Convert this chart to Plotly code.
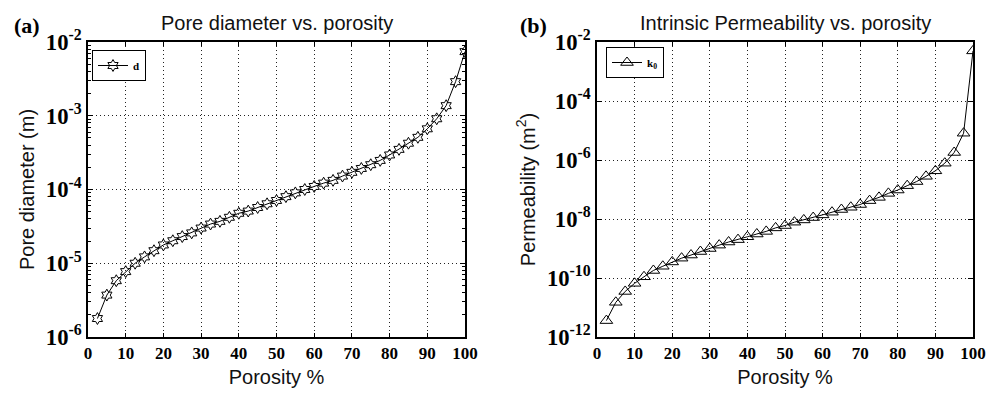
import plotly.graph_objects as go

porosity = [2.5, 5, 7.5, 10, 12.5, 15, 17.5, 20, 22.5, 25, 27.5, 30, 32.5, 35, 37.5, 40,
            42.5, 45, 47.5, 50, 52.5, 55, 57.5, 60, 62.5, 65, 67.5, 70, 72.5, 75, 77.5, 80,
            82.5, 85, 87.5, 90, 92.5, 95, 97.5, 100]

pore_diameter = [1.78e-6, 3.7e-6, 5.8e-6, 7.7e-6, 1.0e-5, 1.22e-5, 1.48e-5, 1.77e-5,
                 2.02e-5, 2.3e-5, 2.58e-5, 3.0e-5, 3.4e-5, 3.7e-5, 4.2e-5, 4.76e-5,
                 5.1e-5, 5.7e-5, 6.4e-5, 7.1e-5, 8.0e-5, 9.0e-5, 1.0e-4, 1.1e-4,
                 1.22e-4, 1.33e-4, 1.52e-4, 1.71e-4, 1.93e-4, 2.17e-4, 2.48e-4, 2.94e-4,
                 3.5e-4, 4.24e-4, 5.1e-4, 6.65e-4, 9.1e-4, 1.37e-3, 2.9e-3, 7.4e-3]

permeability = [3.6e-12, 1.5e-11, 3.5e-11, 6.6e-11, 1.1e-10, 1.8e-10, 2.5e-10, 3.5e-10,
                4.7e-10, 6.0e-10, 7.9e-10, 1.0e-9, 1.3e-9, 1.66e-9, 2.0e-9, 2.5e-9,
                3.1e-9, 3.8e-9, 5.0e-9, 6.0e-9, 7.8e-9, 9.3e-9, 1.12e-8, 1.38e-8,
                1.7e-8, 2.1e-8, 2.5e-8, 3.1e-8, 4.2e-8, 5.4e-8, 7.4e-8, 9.6e-8,
                1.35e-7, 1.86e-7, 2.8e-7, 4.3e-7, 7.8e-7, 1.8e-6, 8.1e-6, 5.0e-3]

x_ticks = [0, 10, 20, 30, 40, 50, 60, 70, 80, 90, 100]
left_exponents = [-6, -5, -4, -3, -2]
right_exponents = [-12, -10, -8, -6, -4, -2]
left_ticklabels = ["10<sup>-6</sup>", "10<sup>-5</sup>", "10<sup>-4</sup>", "10<sup>-3</sup>", "10<sup>-2</sup>"]
right_ticklabels = ["10<sup>-12</sup>", "10<sup>-10</sup>", "10<sup>-8</sup>", "10<sup>-6</sup>",
                    "10<sup>-4</sup>", "10<sup>-2</sup>"]
minor_mults = [2, 3, 4, 5, 6, 7, 8, 9]
W, H = 987, 394

TICKFONT = dict(family="Liberation Sans Narrow", size=17, color="black", weight="bold")
# plotly draws array ticks on log axes at 3/4 of the tick font size; compensate
YTICKFONT = dict(family="Liberation Sans Narrow", size=17 / 0.75, color="black", weight="bold")
LABFONT = dict(family="Liberation Sans", size=20, color="#111")
LEGFONT = dict(family="Liberation Sans Narrow", size=11, color="black", weight="bold")

fig = go.Figure()
fig.add_trace(go.Scatter(
    x=porosity, y=pore_diameter, mode="lines+markers", name="d",
    line=dict(color="black", width=1),
    marker=dict(symbol="hexagram-open", size=9, color="black", line=dict(width=1, color="black")),
    xaxis="x", yaxis="y", legend="legend"))
fig.add_trace(go.Scatter(
    x=porosity, y=permeability, mode="lines+markers", name="k<sub>0</sub>",
    line=dict(color="black", width=1),
    marker=dict(symbol="triangle-up-open", size=11, color="black", line=dict(width=1, color="black")),
    xaxis="x2", yaxis="y2", legend="legend2"))

def xax(domain, anchor):
    return dict(domain=domain, anchor=anchor, range=[0, 100], tickvals=x_ticks,
                ticks="inside", ticklen=4, tickwidth=1, tickcolor="black",
                showline=True, linecolor="black", linewidth=1.5, mirror="ticks",
                showgrid=True, gridcolor="#222", gridwidth=1, griddash="1px,3px",
                zeroline=False, tickfont=TICKFONT, automargin=False,
                title=dict(text="Porosity %", font=LABFONT, standoff=8))

def yax(domain, anchor, exps, labels, title, minor_vals):
    d = dict(domain=domain, anchor=anchor, type="log", range=[exps[0], exps[-1]],
             tickmode="array", tickvals=[10.0 ** e for e in exps],
             ticktext=["<b>" + t + "</b>" for t in labels],
             ticks="inside", ticklen=5, tickwidth=1, tickcolor="black",
             showline=True, linecolor="black", linewidth=1.5, mirror="ticks",
             showgrid=True, gridcolor="#222", gridwidth=1, griddash="1px,3px",
             zeroline=False, tickfont=YTICKFONT, automargin=False,
             title=dict(text=title, font=LABFONT, standoff=6))
    if minor_vals:
        d["minor"] = dict(ticks="inside", ticklen=3, tickwidth=1, tickcolor="black",
                          tickmode="array", tickvals=minor_vals, showgrid=False)
    return d

left_minor = [m * 10.0 ** e for e in left_exponents[:-1] for m in minor_mults]

ydom = [1 - 337 / H, 1 - 42 / H]
fig.update_layout(
    width=W, height=H, margin=dict(l=0, r=0, t=0, b=0, autoexpand=False),
    paper_bgcolor="white", plot_bgcolor="white",
    xaxis=xax([88 / W, 465 / W], "y"),
    yaxis=yax(ydom, "x", left_exponents, left_ticklabels, "Pore diameter (m)", left_minor),
    xaxis2=xax([597 / W, 973 / W], "y2"),
    yaxis2=yax(ydom, "x2", right_exponents, right_ticklabels, "Permeability (m<sup>2</sup>)", None),
    legend=dict(x=92 / W, y=1 - 50 / H, xanchor="left", yanchor="top",
                bordercolor="black", borderwidth=1, bgcolor="white", font=LEGFONT),
    legend2=dict(x=606 / W, y=1 - 47 / H, xanchor="left", yanchor="top",
                 bordercolor="black", borderwidth=1, bgcolor="white", font=LEGFONT),
    showlegend=True,
    annotations=[
        dict(text="Pore diameter vs. porosity", x=(88 + 465) / 2 / W, y=1 - 23 / H,
             xanchor="center", yanchor="middle",
             xref="paper", yref="paper", showarrow=False, font=LABFONT),
        dict(text="Intrinsic Permeability vs. porosity", x=(597 + 973) / 2 / W, y=1 - 23 / H,
             xanchor="center", yanchor="middle",
             xref="paper", yref="paper", showarrow=False, font=LABFONT),
        dict(text="<b>(a)</b>", x=27 / W, y=1 - 26 / H, xanchor="center", yanchor="middle",
             xref="paper", yref="paper",
             showarrow=False, font=dict(family="Liberation Serif", size=22, color="black")),
        dict(text="<b>(b)</b>", x=533 / W, y=1 - 26 / H, xanchor="center", yanchor="middle",
             xref="paper", yref="paper",
             showarrow=False, font=dict(family="Liberation Serif", size=22, color="black")),
    ],
)

fig.write_html("out.html")
